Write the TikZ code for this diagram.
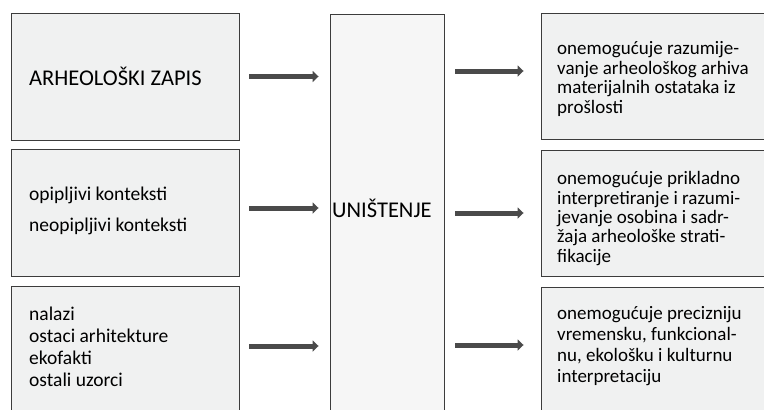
\documentclass[tikz,border=0pt]{standalone}
\usepackage{fontspec}
\setmainfont{Carlito}
\usetikzlibrary{arrows.meta}

\definecolor{boxfill}{HTML}{F0F1F1}
\definecolor{midfill}{HTML}{F6F6F6}
\definecolor{boxline}{HTML}{3C3C3C}
\definecolor{arrowgray}{HTML}{4A4A4A}

\begin{document}
\begin{tikzpicture}[x=1pt, y=-1pt,
	every node/.style={inner sep=0pt, font=\fontsize{19.5}{22}\selectfont},
	box/.style={rectangle, draw=boxline, line width=0.9pt, fill=boxfill},
	txt/.style={anchor=west, align=left},
	caps/.style={anchor=west, font=\fontsize{22.5}{24}\selectfont},
	flow/.style={draw=arrowgray, line width=5pt, -{Triangle[length=6pt, width=11pt]}}]
			\useasboundingbox (0,0) rectangle (764,410);
			\clip (0,0) rectangle (764,410);
			% boxes
			\node[box, minimum width=227.5pt, minimum height=127pt] (l1) at (125.25,76.5){};
			\node[box, minimum width=227.5pt, minimum height=127pt] (l2) at (125.25,212.5){};
			\node[box, minimum width=227.5pt, minimum height=144pt] (l3) at (125.25,358){};
			\node[box, fill=midfill, minimum width=114pt, minimum height=406pt] (mid) at (387,217){};
			\node[box, minimum width=240pt, minimum height=126pt] (r1) at (661,76){};
			\node[box, minimum width=240pt, minimum height=126pt] (r2) at (661,213){};
			\node[box, minimum width=240pt, minimum height=143pt] (r3) at (661,358.5){};
			
			% texts
			\node[caps] (t1) at (29,76){ARHEOLOŠKI ZAPIS};
			\node[txt] (t2a) at (29,195){opipljivi konteksti};
			\node[txt] (t2b) at (29,226){neopipljivi konteksti};
			\node[txt] (t3) at (29,346.5){nalazi\\ostaci arhitekture\\ekofakti\\ostali uzorci};
			\node[caps] (tmid) at (332,208){UNIŠTENJE};
			\node[txt, font=\fontsize{19}{19.5}\selectfont] (s1) at (557,79){onemogućuje razumije-\\vanje arheološkog arhiva\\materijalnih ostataka iz\\prošlosti};
			\node[txt, font=\fontsize{19}{19.3}\selectfont] (s2) at (557,218.5){onemogućuje prikladno\\interpretiranje i razumi-\\jevanje osobina i sadr-\\žaja arheološke strati-\\fikacije};
			\node[txt, font=\fontsize{19}{21}\selectfont] (s3) at (557,346.5){onemogućuje precizniju\\vremensku, funkcional-\\nu, ekološku i kulturnu\\interpretaciju};
			
			% arrows
			\draw[flow, shorten <=10pt, shorten >=11pt] (l1.east) -- (l1.east -| mid.west);
			\draw[flow, shorten <=10pt, shorten >=11pt] ([yshift=4.5pt]l2.east) -- ([yshift=4.5pt]l2.east -| mid.west);
			\draw[flow, shorten <=10pt, shorten >=11pt] ([yshift=12pt]l3.east) -- ([yshift=12pt]l3.east -| mid.west);
			\draw[flow, shorten <=11pt, shorten >=17pt] ([yshift=5pt]r1.west -| mid.east) -- ([yshift=5pt]r1.west);
			\draw[flow, shorten <=11pt, shorten >=17pt] (r2.west -| mid.east) -- (r2.west);
			\draw[flow, shorten <=11pt, shorten >=17pt] ([yshift=13.5pt]r3.west -| mid.east) -- ([yshift=13.5pt]r3.west);
			\end{tikzpicture}
\end{document}
